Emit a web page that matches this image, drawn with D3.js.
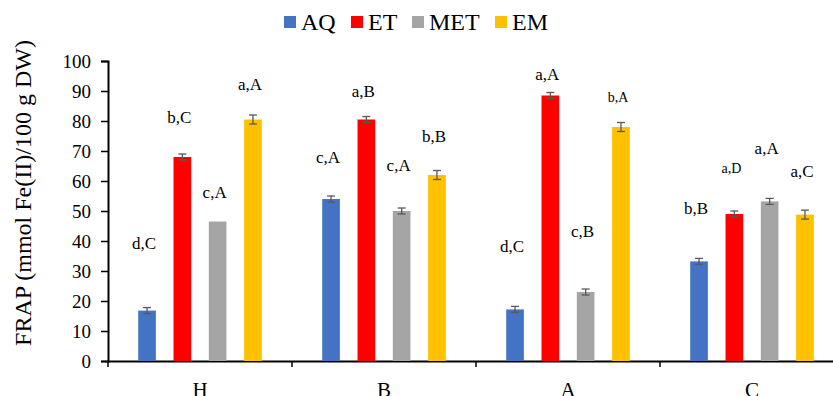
<!DOCTYPE html>
<html>
<head>
<meta charset="utf-8">
<script src="https://cdn.jsdelivr.net/npm/d3@7"></script>
<style>
  body { margin: 0; background: #fff; }
  svg { display: block; }
  text { font-family: "Liberation Serif", "DejaVu Serif", serif; }
</style>
</head>
<body>
<script>
// data
var categories = ["H", "B", "A", "C"];
var series = ["AQ", "ET", "MET", "EM"];
var colors = ["#4472C4", "#FF0000", "#A5A5A5", "#FFC000"];
var yTicks = [0, 10, 20, 30, 40, 50, 60, 70, 80, 90, 100];

var valAQ  = [16.8, 54.0, 17.2, 33.2];
var valET  = [68.0, 80.5, 88.5, 49.0];
var valMET = [46.5, 50.0, 23.0, 53.2];
var valEM  = [80.5, 62.0, 78.0, 48.8];

var errAQ  = [1.0, 1.0, 1.0, 1.0];
var errET  = [1.0, 1.0, 1.0, 1.0];
var errMET = [0, 1.0, 1.0, 1.0];
var errEM  = [1.5, 1.5, 1.5, 1.5];

var letAQ  = ["d,C", "c,A", "d,C", "b,B"];
var letET  = ["b,C", "a,B", "a,A", "a,D"];
var letMET = ["c,A", "c,A", "c,B", "a,A"];
var letEM  = ["a,A", "b,B", "b,A", "a,C"];

// where the letters sit, in y units
var letYAQ  = [39.3, 68.0, 38.3, 51.0];
var letYET  = [81.3, 90.0, 95.7, 64.3];
var letYMET = [56.3, 65.3, 43.3, 71.0];
var letYEM  = [92.3, 75.0, 88.0, 63.3];

var vals = [valAQ, valET, valMET, valEM];
var errs = [errAQ, errET, errMET, errEM];
var lets = [letAQ, letET, letMET, letEM];
var letYs = [letYAQ, letYET, letYMET, letYEM];

var rows = [];
categories.forEach(function(c, i) {
  series.forEach(function(s, j) {
    rows.push({cat: c, ser: s, color: colors[j], v: vals[j][i], e: errs[j][i], lab: lets[j][i], ly: letYs[j][i]});
  });
});

var serif = "Liberation Serif";
var W = 833, H = 396;
var svg = d3.select("body").append("svg")
  .attr("width", W)
  .attr("height", H);

var x0 = d3.scaleBand().domain(categories).range([108, 844]).padding(0);
var x1 = d3.scaleBand().domain(series).range([0, x0.bandwidth()])
  .paddingInner(0.5).paddingOuter(0.856);
var y = d3.scaleLinear().domain([0, 100]).range([361, 61]);

// y axis
var yAxis = svg.append("g")
  .attr("transform", "translate(108,0)")
  .attr("font-family", serif)
  .call(d3.axisLeft(y).tickValues(yTicks).tickSize(7).tickPadding(10));
yAxis.attr("font-family", serif);
yAxis.select(".domain").attr("stroke", "#000").attr("stroke-width", 2);
yAxis.selectAll(".tick line").attr("stroke", "#000").attr("stroke-width", 1.5);
yAxis.selectAll("text")
  .attr("font-family", serif)
  .style("font-size", "19px")
  .attr("fill", "#000");

// x axis
var xAxis = svg.append("g")
  .attr("transform", "translate(0,361)")
  .call(d3.axisBottom(x0).tickSize(0).tickPadding(21).tickSizeOuter(0));
xAxis.attr("font-family", serif);
xAxis.select(".domain").attr("stroke", "#000").attr("stroke-width", 2);
xAxis.selectAll("text")
  .attr("font-family", serif)
  .style("font-size", "21px")
  .attr("fill", "#000");
// boundary ticks between categories
svg.selectAll(".xsep")
  .data(categories)
  .enter().append("line")
  .attr("x1", function(d) { return x0(d); })
  .attr("x2", function(d) { return x0(d); })
  .attr("y1", 361)
  .attr("y2", 367)
  .attr("stroke", "#000")
  .attr("stroke-width", 1.5);

// bars
svg.selectAll(".bar")
  .data(rows)
  .enter().append("rect")
  .attr("class", "bar")
  .attr("x", function(d) { return x0(d.cat) + x1(d.ser); })
  .attr("y", function(d) { return y(d.v); })
  .attr("width", x1.bandwidth())
  .attr("height", function(d) { return y(0) - y(d.v); })
  .attr("fill", function(d) { return d.color; });

// error bars
var eb = svg.selectAll(".err")
  .data(rows.filter(function(d) { return d.e > 0; }))
  .enter().append("g")
  .attr("class", "err")
  .attr("stroke", "#595959")
  .attr("stroke-width", 1.3);
eb.append("line")
  .attr("x1", function(d) { return x0(d.cat) + x1(d.ser) + x1.bandwidth() / 2; })
  .attr("x2", function(d) { return x0(d.cat) + x1(d.ser) + x1.bandwidth() / 2; })
  .attr("y1", function(d) { return y(d.v - d.e); })
  .attr("y2", function(d) { return y(d.v + d.e); });
[-1, 1].forEach(function(sgn) {
  eb.append("line")
    .attr("x1", function(d) { return x0(d.cat) + x1(d.ser) + x1.bandwidth() / 2 - 4; })
    .attr("x2", function(d) { return x0(d.cat) + x1(d.ser) + x1.bandwidth() / 2 + 4; })
    .attr("y1", function(d) { return y(d.v + sgn * d.e); })
    .attr("y2", function(d) { return y(d.v + sgn * d.e); });
});

// letters
svg.selectAll(".lab")
  .data(rows)
  .enter().append("text")
  .attr("class", "lab")
  .attr("x", function(d) { return x0(d.cat) + x1(d.ser) + x1.bandwidth() / 2 - 3; })
  .attr("y", function(d) { return y(d.ly); })
  .attr("dy", "0.35em")
  .attr("text-anchor", "middle")
  .attr("font-family", serif)
  .style("font-size", function(d) { return (d.lab == "b,A" || d.lab == "a,D") ? "14px" : "17px"; })
  .attr("fill", "#000")
  .text(function(d) { return d.lab; });

// y title
svg.append("text")
  .attr("transform", "translate(31,193) rotate(-90)")
  .attr("text-anchor", "middle")
  .attr("font-family", serif)
  .style("font-size", "24px")
  .attr("fill", "#000")
  .text("FRAP (mmol Fe(II)/100 g DW)");

// legend
var legX = [284, 351, 412, 495];
var leg = svg.selectAll(".leg")
  .data(series)
  .enter().append("g")
  .attr("class", "leg")
  .attr("transform", function(d, i) { return "translate(" + legX[i] + ",16)"; });
leg.append("rect")
  .attr("width", 12)
  .attr("height", 12)
  .attr("fill", function(d, i) { return colors[i]; });
leg.append("text")
  .attr("x", 17)
  .attr("y", 14)
  .attr("font-family", serif)
  .style("font-size", "24px")
  .attr("fill", "#000")
  .text(function(d) { return d; });
</script>
</body>
</html>
